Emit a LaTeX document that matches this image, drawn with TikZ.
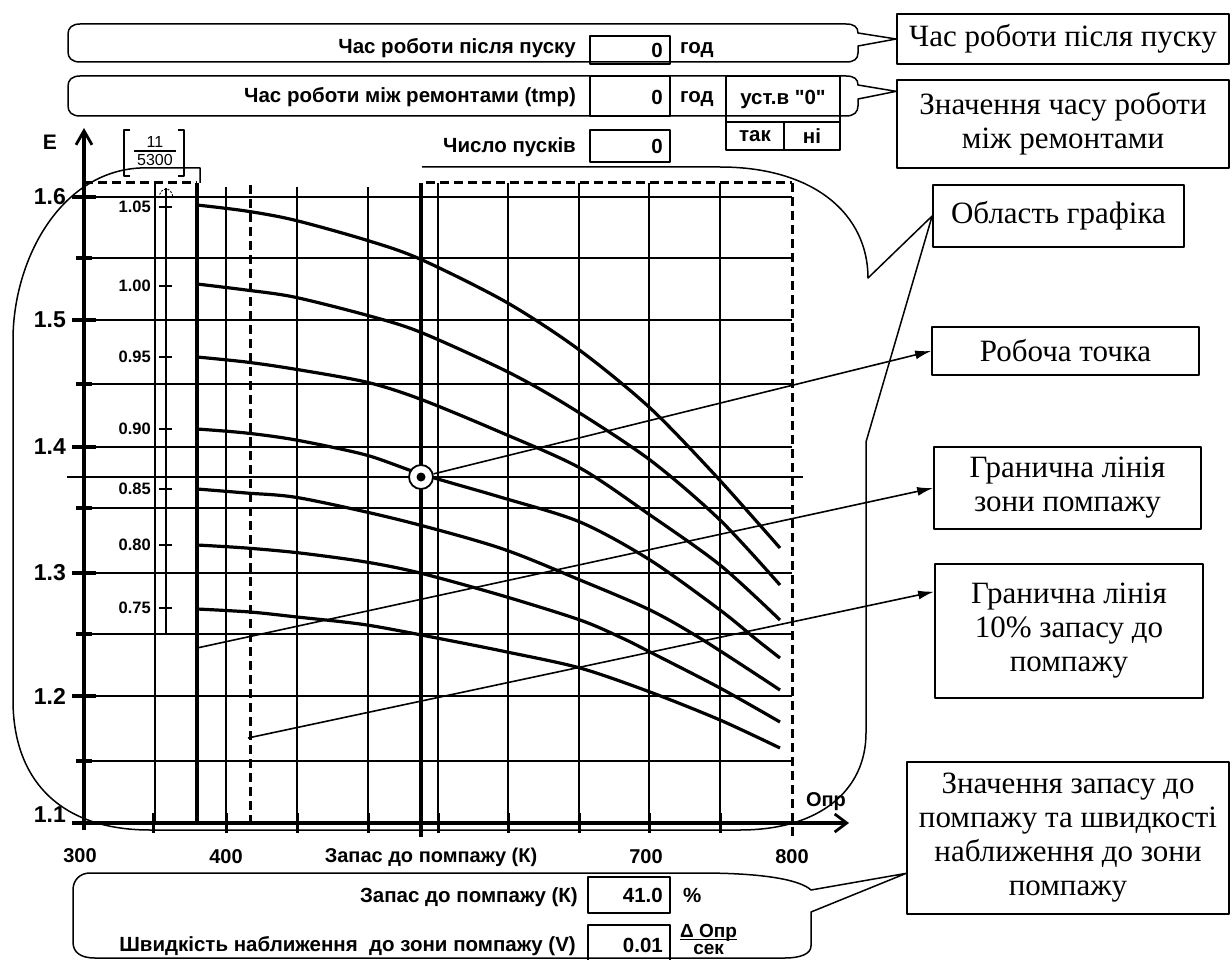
\documentclass[tikz,border=0pt]{standalone}
\usepackage{fontspec}
\setmainfont{Liberation Serif}
\newfontfamily\uisans{Liberation Sans}
\usetikzlibrary{arrows.meta,calc}
\newcommand\lblfont{\uisans\bfseries\fontsize{20.5}{24}\selectfont}
\newcommand\smlfont{\uisans\bfseries\fontsize{16.5}{19}\selectfont}
\newcommand\axfont{\uisans\bfseries\fontsize{23}{26}\selectfont}
\newcommand\xlfont{\uisans\bfseries\fontsize{20}{23}\selectfont}
\newcommand\frfont{\uisans\fontsize{16}{19}\selectfont}
\newcommand\cofont{\fontsize{31}{34}\selectfont}
\begin{document}
\begin{tikzpicture}[x=1pt,y=-1pt,line join=round,
 gridl/.style={line width=1.7pt},
 heavy/.style={line width=3.5pt},
 crv/.style={line width=3.2pt},
 dashl/.style={line width=3pt,dash pattern=on 9pt off 5pt},
 outl/.style={line width=1.5pt},
 cbox/.style={draw,line width=1.7pt,font=\cofont,align=center,inner sep=0pt},
 vbox/.style={draw,line width=1.5pt,inner sep=0pt},
 lbl/.style={font=\lblfont,inner sep=0pt},
 conn/.style={line width=1.6pt,-{Latex[length=16pt,width=9pt]}},
 tickm/.style={line width=3.4pt},
]
\useasboundingbox (0,0) rectangle (1232,960);

% ---------- callout boxes (right) ----------
\node[cbox,minimum width=332pt,minimum height=50pt] (c1) at (1063,39) {Час роботи після пуску};
\node[cbox,minimum width=332pt,minimum height=88pt] (c2) at (1063,124) {Значення часу роботи\\між ремонтами};
\node[cbox,minimum width=251pt,minimum height=62pt] (c3) at (1058.5,216) {Область графіка};
\node[cbox,minimum width=267pt,minimum height=48pt] (c4) at (1065.5,351) {Робоча точка};
\node[cbox,minimum width=267pt,minimum height=82pt] (c5) at (1067.5,488) {Гранична лінія\\зони помпажу};
\node[cbox,minimum width=268pt,minimum height=134pt] (c6) at (1069,631) {Гранична лінія\\10\% запасу до\\помпажу};
\node[cbox,minimum width=322pt,minimum height=152pt] (c7) at (1068,838) {Значення запасу до\\помпажу та швидкості\\наближення до зони\\помпажу};

% ---------- top pills ----------
\coordinate (p2tip) at ($(c2.north west)!0.136!(c2.south west)$);
\draw[outl] (80,24) -- (846,24) .. controls (854,24) and (858,27) .. (858,33) -- (c1.west) -- (858,46) -- (858,53) .. controls (858,59) and (854,62) .. (846,62) -- (80,62) .. controls (72,62) and (68,58) .. (68,52) -- (68,34) .. controls (68,28) and (72,24) .. (80,24) -- cycle;
\draw[outl] (80,76) -- (846,76) .. controls (854,76) and (858,79) .. (858,85) -- (p2tip) -- (858,99) -- (858,106) .. controls (858,112) and (854,116) .. (846,116) -- (80,116) .. controls (72,116) and (68,112) .. (68,106) -- (68,86) .. controls (68,80) and (72,76) .. (80,76) -- cycle;

\node[lbl,anchor=base east] (t1) at (576,54) {Час роботи після пуску};
\node[vbox,minimum width=80pt,minimum height=28pt] (v1) at (630,50) {};
\node[lbl,anchor=east] (n1) at (663,50) {0};
\node[lbl,anchor=base west] (u1) at (680,54) {год};

\node[lbl,anchor=base east] (t2) at (576,103) {Час роботи між ремонтами (tmp)};
\node[vbox,minimum width=80pt,minimum height=40pt] (v2) at (630,96) {};
\node[lbl,anchor=east] (n2) at (663,97) {0};
\node[lbl,anchor=base west] (u2) at (680,103) {год};
\node[vbox,minimum width=114pt,minimum height=46pt,font=\lblfont] (ust) at (783,99) {уст.в "0"};
\node[vbox,minimum width=58pt,minimum height=28pt,font=\lblfont] (tak) at (755,136) {так};
\node[vbox,minimum width=56pt,minimum height=28pt,font=\lblfont] (ni) at (812,136) {ні};

\node[lbl,anchor=base east] (t3) at (576,153) {Число пусків};
\node[vbox,minimum width=80pt,minimum height=32pt] (v3) at (630,146) {};
\node[lbl,anchor=east] (n3) at (663,146) {0};

% ---------- graph-area callout ----------
\draw[outl] (422,167) -- (720,167) .. controls (815,167) and (868,215) .. (868,278) -- (c3.west) -- (866,442) -- (866,733) .. controls (866,790) and (820,830) .. (740,830) -- (150,830) .. controls (60,830) and (13,780) .. (13,700) -- (13,340) .. controls (13,260) and (60,172) .. (140,168) -- (200,168) -- (200,183);

% ---------- grid ----------
\foreach \y in {197,258,320,384,447,508,573,634,696,761}
  \draw[gridl] (84,\y) -- (792,\y);
\foreach \x in {226,297,368}
  \draw[gridl] (\x,187) -- (\x,823);
\foreach \x in {155,438,508,579,649,720}
  \draw[gridl] (\x,183) -- (\x,823);
\draw[gridl] (226,823) -- (226,833);
\draw[gridl] (166,188) -- (166,634);
\draw[line width=0.9pt,dash pattern=on 2pt off 1.5pt] (159,198) .. controls (160,186) and (172,186) .. (173,198);
\draw[heavy] (197,183) -- (197,823);
\draw[heavy] (421,183) -- (421,837);
\draw[dashl] (250,185) -- (250,823);
\draw[dashl] (792,183) -- (792,837);
\draw[dashl] (84,183) -- (197,183);
\draw[dashl] (426,183) -- (792,183);

% y ticks
\foreach \y in {197,320,447,573,696}
  \draw[tickm] (72,\y) -- (96,\y);
\foreach \y in {258,384,508,634,761}
  \draw[tickm] (76,\y) -- (92,\y);
\draw[tickm] (72,823) -- (84,823);
% x ticks
\foreach \x in {153,226,297,368,438,508,579,649,720}
  \draw[line width=3pt] (\x,813) -- (\x,833);

% inner scale
\foreach \y/\t in {207/1.05,286/1.00,357/0.95,429/0.90,489/0.85,545/0.80,608/0.75}{
  \draw[line width=1.5pt] (159,\y) -- (172,\y);
  \node[font=\smlfont,anchor=east,inner sep=0pt] at (151,\y) {\t};
}

% y labels
\foreach \y/\t in {197/1.6,320/1.5,447/1.4,573/1.3,696/1.2,815/1.1}
  \node[font=\axfont,anchor=east,inner sep=0pt] at (66,\y) {\t};

% axes
\draw[line width=3.5pt,-{Straight Barb[length=14pt,width=16pt,line width=2.8pt]}] (84,830) -- (84,128);
\draw[line width=3.5pt,-{Straight Barb[length=12pt,width=18pt,line width=2.8pt]}] (78,823) -- (849,823);
\node[font=\uisans\bfseries\fontsize{21}{24}\selectfont,inner sep=0pt] (E) at (50,142) {E};
\node[font=\uisans\bfseries\fontsize{20}{23}\selectfont,inner sep=0pt] (opr) at (826,802) {Опр};

% fraction
\node[font=\frfont,inner sep=0pt] (f11) at (155,142) {11};
\node[font=\frfont,inner sep=0pt] (f53) at (155,160) {5300};
\draw[line width=1.2pt] (134,151) -- (176,151);
\draw[line width=1.4pt] (130,130) -- (124,130) -- (124,176) -- (130,176);
\draw[line width=1.4pt] (178,130) -- (184,130) -- (184,176) -- (178,176);

% x labels
\node[font=\xlfont,inner sep=0pt] at (80,856) {300};
\node[font=\xlfont,inner sep=0pt] at (226,857) {400};
\node[font=\xlfont,inner sep=0pt] at (646,857) {700};
\node[font=\xlfont,inner sep=0pt] at (792,857) {800};
\node[font=\xlfont,inner sep=0pt] at (431,857) {Запас до помпажу (К)};

% working horizontal line
\draw[line width=2.1pt] (67,477) -- (803,477);

% ---------- curves ----------
\draw[crv] plot[smooth] coordinates {(197,205) (246,211) (294,220) (366,240) (420,259) (506,302) (578,349) (649,407) (715,475) (780,548)};
\draw[crv] plot[smooth] coordinates {(197,284) (246,290) (294,297) (366,315) (420,332) (508,372) (570,407) (650,460) (720,520) (780,585)};
\draw[crv] plot[smooth] coordinates {(197,357) (246,362) (294,369) (366,382) (420,399) (500,432) (580,468) (650,515) (720,565) (780,620)};
\draw[crv] plot[smooth] coordinates {(197,429) (246,433) (296,440) (366,455) (421,474) (500,497) (580,522) (650,560) (720,610) (757,640) (780,658)};
\draw[crv] plot[smooth] coordinates {(197,489) (246,493) (300,498) (400,520) (500,548) (580,580) (650,610) (703,640) (780,690)};
\draw[crv] plot[smooth] coordinates {(197,545) (246,548) (300,553) (366,562) (420,573) (500,595) (580,620) (622,638) (650,652) (720,688) (780,722)};
\draw[crv] plot[smooth] coordinates {(197,609) (250,612) (297,617) (367,625) (447,640) (507,652) (580,668) (650,692) (720,720) (780,748)};

% ---------- working point & surge lines ----------
\node[circle,draw,line width=1.8pt,fill=white,minimum size=24pt,inner sep=0pt] (wp) at (421,477) {};
\fill (421,477) circle (4.5pt);
\draw[conn] (wp) -- (c4.west);
\coordinate (zl0) at (197,648);
\coordinate (tl0) at (248,738);
\coordinate (c6in) at ($(c6.north west)!0.21!(c6.south west)$);
\draw[conn] (zl0) -- (c5.west);
\draw[conn] (tl0) -- (c6in);

% ---------- bottom pill ----------
\coordinate (btip) at ($(c7.north west)!0.73!(c7.south west)$);
\draw[outl] (90,873) -- (700,873) .. controls (765,873) and (800,880) .. (811,890) -- (btip) -- (811,912) -- (811,946) .. controls (811,954) and (800,958) .. (785,958) -- (95,958) .. controls (80,958) and (73,952) .. (73,942) -- (73,890) .. controls (73,880) and (80,873) .. (90,873) -- cycle;

\node[lbl,anchor=base east] (t4) at (578,902) {Запас до помпажу (К)};
\node[vbox,minimum width=82pt,minimum height=36pt] (v4) at (629,895) {};
\node[lbl,anchor=east] (n4) at (663,895) {41.0};
\node[lbl,anchor=base west] (u4) at (683,902) {\%};
\node[lbl,anchor=base east] (t5) at (576,951) {Швидкість наближення\ \ до зони помпажу (V)};
\node[vbox,minimum width=82pt,minimum height=40pt] (v5) at (629,945) {};
\node[lbl,anchor=east] (n5) at (663,945) {0.01};
\node[font=\uisans\bfseries\fontsize{19}{19}\selectfont,inner sep=0pt,anchor=west] (u5) at (680,942) {\begin{tabular}{@{}c@{}}Δ Опр\\[-4pt]\hline\rule{0pt}{15pt}сек\end{tabular}};
\end{tikzpicture}
\end{document}
